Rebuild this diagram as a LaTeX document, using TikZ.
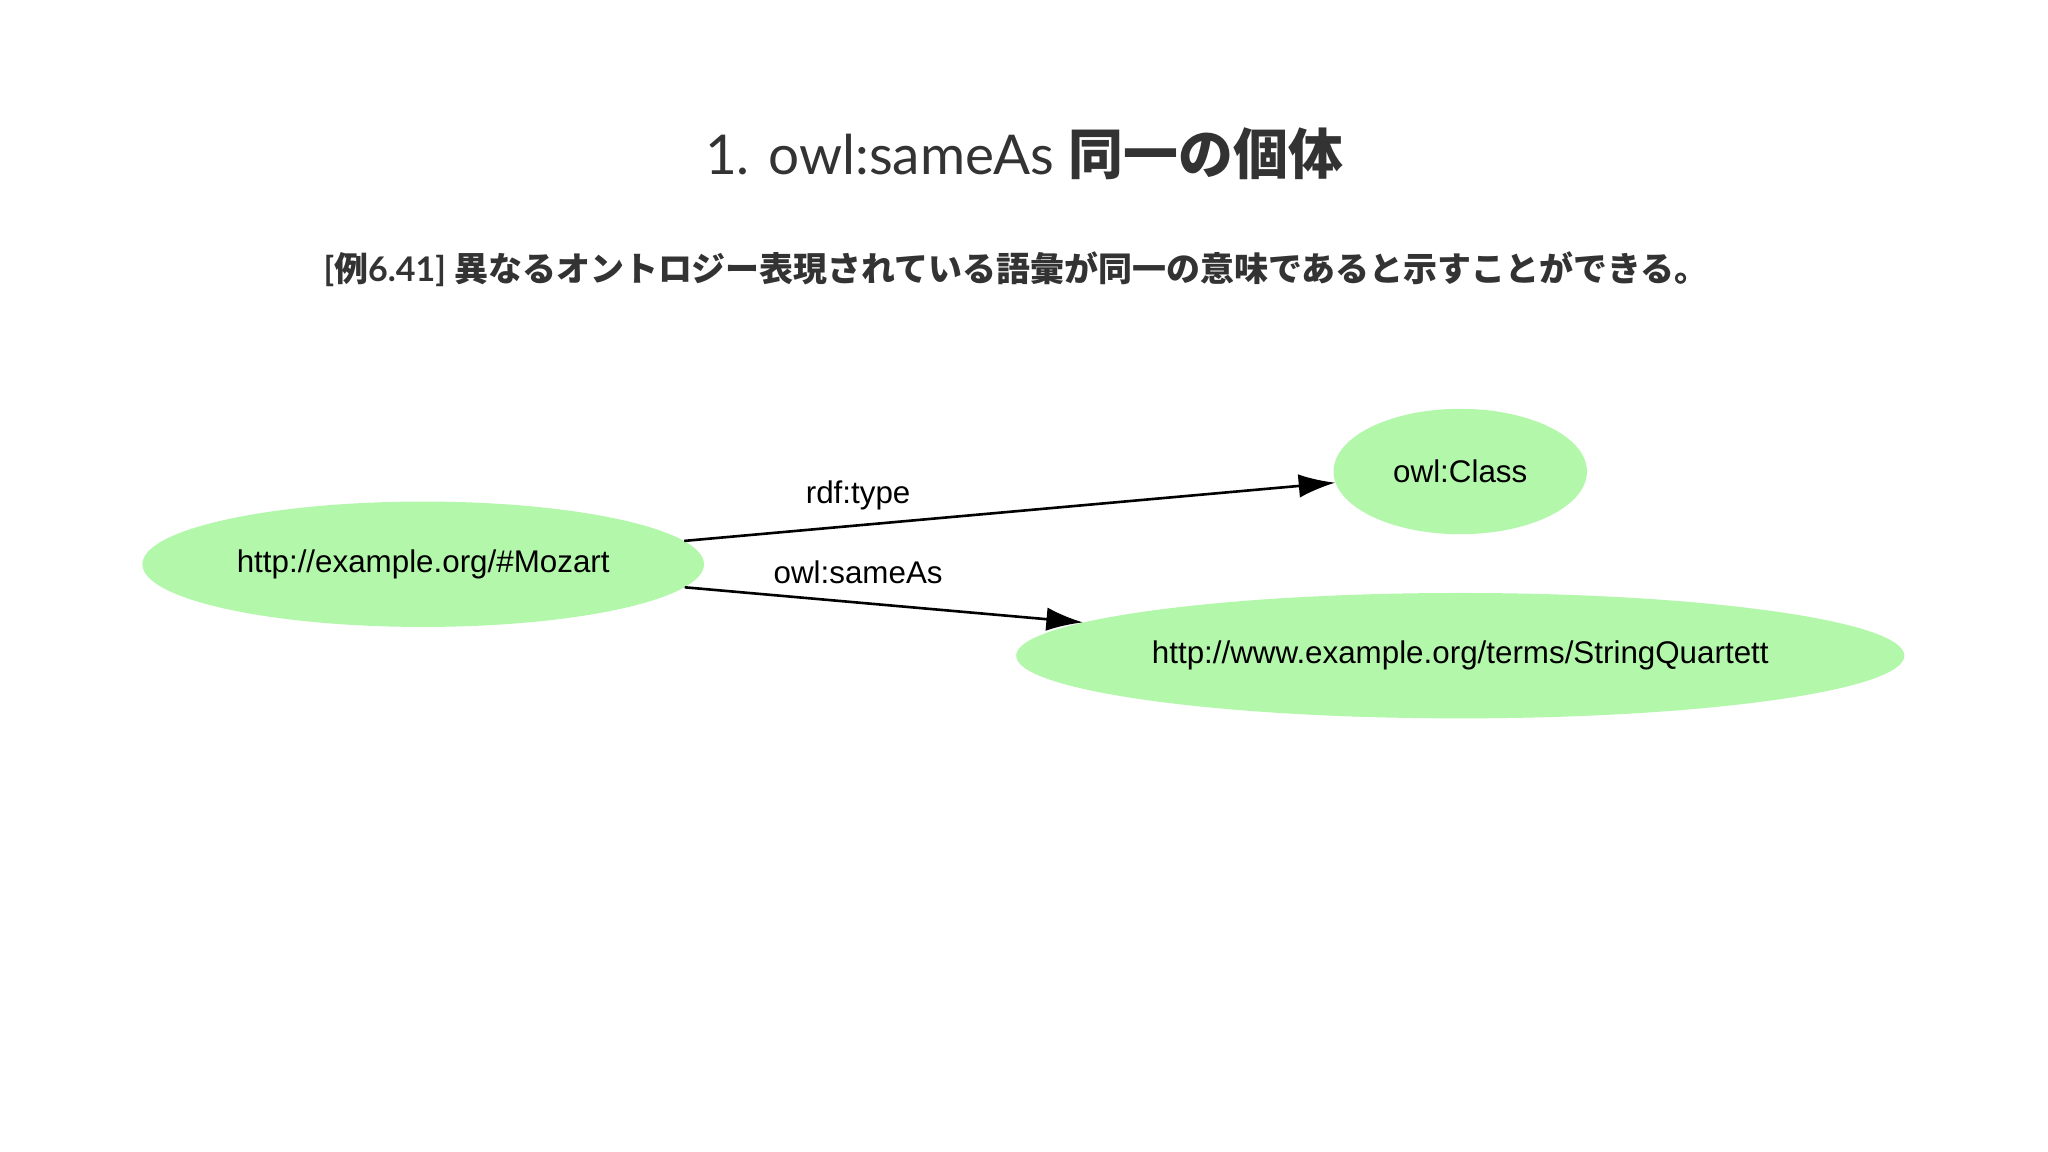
\documentclass[tikz,border=0pt]{standalone}
\usepackage{fontspec}
\setmainfont{Lato}
\newfontfamily\cjk{Noto Sans CJK JP}
\newfontfamily\gv{Liberation Sans}
\usetikzlibrary{shapes.geometric,arrows.meta}
\definecolor{nodegreen}{HTML}{B3F7AB}
\definecolor{txt}{HTML}{333333}
\begin{document}
\begin{tikzpicture}[x=1pt,y=-1pt,
  gnode/.style={ellipse,fill=nodegreen,inner sep=0pt,font=\gv\fontsize{24}{28}\selectfont},
  edge/.style={-{Latex[length=28pt,width=18pt]},line width=2pt},
  elabel/.style={font=\gv\fontsize{24}{28}\selectfont}]
\useasboundingbox[fill=white] (0,0) rectangle (1568,882);
\node[txt,font=\fontsize{42}{48}\selectfont] (title) at (784,118) {1. owl:sameAs {\cjk\bfseries 同一の個体}};
\node[txt,font=\bfseries\fontsize{26}{30}\selectfont] (sub) at (778,206) {[{\cjk 例}6.41] {\cjk 異なるオントロジー表現されている語彙が同一の意味であると示すことができる。}};
\node[gnode,minimum width=430pt,minimum height=96pt] (moz) at (324,432) {http://example.org/\#Mozart};
\node[gnode,minimum width=194pt,minimum height=96pt] (cls) at (1118,361) {owl:Class};
\node[gnode,minimum width=680pt,minimum height=96pt] (sq) at (1118,502) {http://www.example.org/terms/StringQuartett};
\draw[edge] (moz) -- (cls);
\draw[edge] (moz) -- (sq);
\node[elabel] (l1) at (657,379) {rdf:type};
\node[elabel] (l2) at (657,438) {owl:sameAs};
\end{tikzpicture}
\end{document}
